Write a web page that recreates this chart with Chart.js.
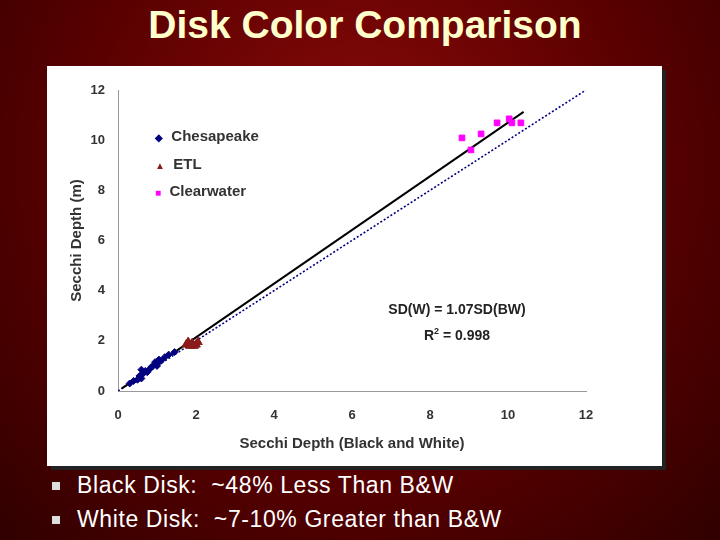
<!DOCTYPE html>
<html><head><meta charset="utf-8">
<script src="https://cdn.jsdelivr.net/npm/chart.js@4"></script>
<style>
body{margin:0;width:720px;height:540px;overflow:hidden;background:radial-gradient(ellipse at 50% 30%,#8a0a0a 0%,#5a0000 55%,#300000 100%);font-family:"Liberation Sans",Arial,sans-serif;position:relative}
#title{position:absolute;top:3px;left:0;width:730px;text-align:center;color:#ffffcc;font-weight:bold;font-size:39px}
#panel{position:absolute;left:47px;top:66px;width:615px;height:400px;background:#fff;box-shadow:4px 4px 0 #222}
.b{position:absolute;left:52px;color:#fff;font-size:23px;letter-spacing:0.6px}
.b span{position:absolute;left:0;top:10px;width:8px;height:8px;background:#ddd}
.b i{font-style:normal;position:absolute;left:25px;white-space:nowrap}
#leg{position:absolute;left:108px;top:57px;font-weight:bold;font-size:15px;color:#333;line-height:25.5px}
#ann{position:absolute;left:330px;top:232px;width:160px;text-align:center;font-weight:bold;font-size:14px;color:#222;line-height:22px}
</style></head><body>
<div id="title">Disk Color Comparison</div>
<div id="panel"><canvas id="c" width="615" height="400"></canvas>
<div id="leg"><div><span style="color:#000080;font-size:10px">◆</span>&nbsp; Chesapeake</div><div><span style="color:#8b1a1a;font-size:10px">▲</span>&nbsp; ETL</div><div><span style="color:#ff00ff;font-size:10px">■</span>&nbsp; Clearwater</div></div>
<div id="ann">SD(W) = 1.07SD(BW)<br>R<sup style="font-size:9px">2</sup> = 0.998</div>
</div>
<div class="b" style="top:472px"><span></span><i>Black Disk:&nbsp; ~48% Less Than B&amp;W</i></div>
<div class="b" style="top:506px"><span></span><i>White Disk:&nbsp; ~7-10% Greater than B&amp;W</i></div>
<script>
const chesX=[0.3,0.4,0.5,0.55,0.6,0.65,0.7,0.8,0.85,0.9,0.95,1.0,1.05,1.1,1.2,1.3,1.45,0.6,0.75,1.0];
const chesY=[0.3,0.4,0.45,0.6,0.85,0.7,0.8,0.85,0.95,1.0,1.15,1.1,1.25,1.2,1.35,1.45,1.55,0.5,0.75,1.0];
const etlX=[1.75,1.8,1.85,1.9,2.0,2.05,1.95];
const etlY=[1.85,1.95,1.8,1.9,1.85,1.95,1.8];
const clrX=[8.82,9.05,9.31,9.72,10.03,10.1,10.33];
const clrY=[10.09,9.61,10.25,10.69,10.85,10.69,10.69];
const fitX=[0.1,10.4];
const slope=1.07;
const ticks=[0,2,4,6,8,10,12];
const pts=(xs,ys)=>xs.map((x,i)=>({x,y:ys[i]}));
new Chart(document.getElementById('c'),{type:'scatter',data:{datasets:[
{data:pts(chesX,chesY),pointStyle:'rectRot',radius:3.5,backgroundColor:'#000080',borderColor:'#000080'},
{data:pts(etlX,etlY),pointStyle:'triangle',radius:5,backgroundColor:'#8b1a1a',borderColor:'#8b1a1a'},
{data:pts(clrX,clrY),pointStyle:'rect',radius:4,backgroundColor:'#ff00ff',borderColor:'#ff00ff'},
{type:'line',data:fitX.map(x=>({x,y:x*slope})),borderColor:'#000',borderWidth:2,pointRadius:0},
{type:'line',data:[{x:0,y:0},{x:12,y:12}],borderColor:'#000080',borderWidth:1.6,borderDash:[2,2],pointRadius:0}
]},options:{responsive:false,animation:false,layout:{padding:{top:24,right:76,left:17,bottom:9}},
plugins:{legend:{display:false},tooltip:{enabled:false}},
scales:{x:{min:0,max:12,afterBuildTicks:a=>{a.ticks=ticks.map(v=>({value:v}))},afterFit:a=>{a.height=66},
grid:{display:false,drawTicks:true,tickLength:5},border:{color:'#999'},
ticks:{color:'#333',padding:12,font:{weight:'bold',size:13}},title:{display:true,text:'Secchi Depth (Black and White)',color:'#333',font:{weight:'bold',size:15},padding:{top:6}}},
y:{min:0,max:12,afterBuildTicks:a=>{a.ticks=ticks.map(v=>({value:v}))},afterFit:a=>{a.width=54},
grid:{display:false,tickLength:5},border:{color:'#999'},
ticks:{color:'#333',padding:8,font:{weight:'bold',size:13}},title:{display:true,text:'Secchi Depth (m)',color:'#333',font:{weight:'bold',size:15}}}}}});
</script></body></html>
